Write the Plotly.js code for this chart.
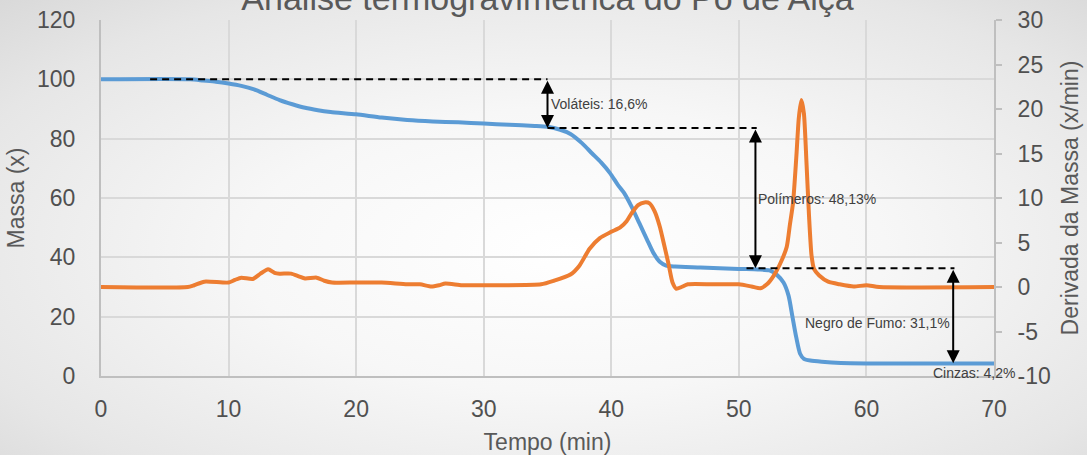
<!DOCTYPE html>
<html>
<head>
<meta charset="utf-8">
<script src="https://cdn.plot.ly/plotly-3.0.1.min.js"></script>
<style>
  html, body { margin: 0; padding: 0; }
  body {
    width: 1087px; height: 455px; overflow: hidden;
    background: radial-gradient(ellipse at 52% 55%, #ffffff 0%, #f7f7f7 40%, #e6e6e6 80%, #d9d9d9 100%);
  }
  #chart { width: 1087px; height: 455px; }
</style>
</head>
<body>
<div id="chart"></div>
<script>
// Massa (x) vs Tempo (min)
const tempoMassa = [0, 7, 8, 9, 10, 11, 12, 13, 14, 15, 16, 17, 18, 20, 22, 24, 26, 28, 30, 32, 34, 35, 36, 36.8, 37.7, 38.5, 39.2, 39.9, 40.5, 41, 41.6, 42.2, 42.8, 43.3, 43.8, 44.3, 45, 47, 50, 51.5, 52.4, 53, 53.5, 53.9, 54.2, 54.5, 54.8, 55.1, 55.6, 56.5, 58, 60, 65, 70];
const massa = [100, 100, 99.6, 99.2, 98.6, 97.8, 96.6, 94.8, 93, 91.6, 90.4, 89.6, 89.0, 88.2, 87.1, 86.3, 85.8, 85.5, 85.1, 84.7, 84.3, 84.0, 83.0, 81.6, 78.5, 75, 72, 68.4, 64.5, 61.7, 57, 51.5, 46, 41.5, 38.5, 37.2, 36.9, 36.6, 36.1, 35.9, 35.6, 34, 31.5, 27, 20, 13, 7.5, 5.8, 5.2, 4.8, 4.4, 4.25, 4.2, 4.2];

// Derivada da Massa (x/min) vs Tempo (min)
const tempoDeriv = [0, 6.8, 7.3, 8.1, 10, 10.5, 11, 11.9, 12.5, 13.1, 13.6, 14, 14.9, 15.5, 16, 16.9, 17.5, 18.1, 20, 22, 24, 25, 25.9, 26.5, 27, 28.3, 30, 34.5, 35.5, 36.8, 37.5, 38.3, 39.1, 40, 40.7, 41.2, 41.6, 42.1, 42.6, 43, 43.4, 43.8, 44.1, 44.5, 44.8, 45.1, 45.5, 46, 48, 50, 51, 51.7, 52.2, 52.7, 53.2, 53.75, 54.0, 54.25, 54.5, 54.7, 54.9, 55.1, 55.3, 55.5, 55.7, 55.9, 56.3, 57, 57.9, 59, 60, 61, 70];
const derivada = [0, 0, 0.2, 0.6, 0.5, 0.8, 1.05, 0.9, 1.5, 2.0, 1.6, 1.5, 1.5, 1.2, 0.95, 1.05, 0.7, 0.5, 0.5, 0.5, 0.3, 0.3, 0.05, 0.2, 0.4, 0.2, 0.2, 0.3, 0.7, 1.4, 2.4, 4.3, 5.5, 6.2, 6.7, 7.4, 8.3, 9.2, 9.5, 9.4, 8.5, 6.8, 5, 2.5, 0.5, -0.2, 0, 0.3, 0.3, 0.3, 0.05, -0.15, 0.3, 1.2, 2.5, 4.5, 7.0, 9.5, 14.5, 19, 21, 19.5, 14, 8, 3.5, 2.0, 1.3, 0.6, 0.3, 0.05, 0.2, 0, 0];

// Right-axis tick labels (plain hyphen minus, as in the original)
const derivTicks = [-10, -5, 0, 5, 10, 15, 20, 25, 30];
const derivTickText = ['-10', '-5', '0', '5', '10', '15', '20', '25', '30'];

// Mass-loss steps (Massa levels) and their labels
const etapaTempo = [35.0, 51.3, 66.8];
const etapaTopo = [100, 83.6, 36.3];
const etapaBase = [83.6, 36.3, 4.3];
const etapaInicio = [3.85, 35.0, 50.6];
const etapaFim = [35.0, 51.4, 66.9];
const rotulos = ["Voláteis: 16,6%", "Polímeros: 48,13%", "Negro de Fumo: 31,1%", "Cinzas: 4,2%"];
const rotuloX = [35.15, 51.35, 55.05, 65.1];
const rotuloY = [91.7, 59.7, 18.0, 1.1];

const titulo = "Análise termogravimétrica do Pó de Alça";

const grey = '#595959';
const tickFont = { family: 'Liberation Sans Narrow, Arial Narrow, sans-serif', size: 23, color: '#505050' };
const titleFont = { family: 'Liberation Sans, Arial, sans-serif', size: 23, color: grey };

const traces = [
  {
    x: tempoMassa, y: massa, type: 'scatter', mode: 'lines',
    line: { color: '#5B9BD5', width: 4, shape: 'spline', smoothing: 0.6 },
    name: 'Massa', xaxis: 'x', yaxis: 'y', hoverinfo: 'skip'
  },
  {
    x: tempoDeriv, y: derivada, type: 'scatter', mode: 'lines',
    line: { color: '#ED7D31', width: 4, shape: 'spline', smoothing: 0.6 },
    name: 'Derivada', xaxis: 'x', yaxis: 'y2', hoverinfo: 'skip'
  }
];

const shapes = [];
for (let i = 0; i < 3; i++) {
  shapes.push({
    type: 'line', xref: 'x', yref: 'y',
    x0: etapaInicio[i], x1: etapaFim[i], y0: etapaTopo[i], y1: etapaTopo[i],
    line: { color: '#000000', width: 2, dash: '7px,5px' }
  });
}

const annotations = [];
for (let i = 0; i < 3; i++) {
  annotations.push({
    x: etapaTempo[i], y: etapaBase[i], xref: 'x', yref: 'y',
    ax: etapaTempo[i], ay: etapaTopo[i], axref: 'x', ayref: 'y',
    text: '', showarrow: true, arrowhead: 2, arrowside: 'end+start',
    arrowsize: 1.3, arrowwidth: 2, arrowcolor: '#000000', standoff: 0, startstandoff: 0
  });
}
for (let i = 0; i < rotulos.length; i++) {
  annotations.push({
    x: rotuloX[i], y: rotuloY[i], xref: 'x', yref: 'y',
    text: rotulos[i], showarrow: false, xanchor: 'left', yanchor: 'middle',
    font: { family: 'Liberation Sans, Arial, sans-serif', size: 14, color: '#404040' }
  });
}

const layout = {
  width: 1087, height: 455,
  paper_bgcolor: 'rgba(0,0,0,0)', plot_bgcolor: 'rgba(0,0,0,0)',
  margin: { l: 101, r: 93, t: 20, b: 79 },
  showlegend: false,
  title: {
    text: titulo, font: { family: 'Liberation Sans, Arial, sans-serif', size: 34, color: grey },
    x: 0.5, xanchor: 'center', xref: 'paper', y: 1.03, yanchor: 'bottom', yref: 'paper',
    pad: { t: 0, b: 0, l: 0, r: 0 }
  },
  xaxis: {
    range: [0, 70], dtick: 10, tick0: 0,
    showgrid: true, gridcolor: '#d9d9d9', gridwidth: 2,
    showline: true, linecolor: '#bfbfbf', linewidth: 2,
    zeroline: false, ticks: '', ticklabelstandoff: 11,
    tickfont: tickFont,
    title: { text: 'Tempo (min)', font: titleFont, standoff: 24 }
  },
  yaxis: {
    range: [0, 120], dtick: 20, tick0: 0,
    showgrid: true, gridcolor: '#d9d9d9', gridwidth: 2,
    showline: true, linecolor: '#bfbfbf', linewidth: 2,
    zeroline: false, ticks: '', ticklabelstandoff: 19,
    tickfont: tickFont,
    title: { text: 'Massa (x)', font: titleFont, standoff: 6 }
  },
  yaxis2: {
    range: [-10, 30], tickmode: 'array', tickvals: derivTicks, ticktext: derivTickText,
    overlaying: 'y', side: 'right',
    showgrid: false, zeroline: false,
    showline: true, linecolor: '#bfbfbf', linewidth: 2,
    ticks: 'outside', ticklen: 6, tickwidth: 2, tickcolor: '#bfbfbf', ticklabelstandoff: 11,
    tickfont: tickFont,
    title: { text: 'Derivada da Massa (x/min)', font: titleFont, standoff: 12 }
  },
  shapes: shapes,
  annotations: annotations
};

Plotly.newPlot('chart', traces, layout, { staticPlot: true, displayModeBar: false });
</script>
</body>
</html>
